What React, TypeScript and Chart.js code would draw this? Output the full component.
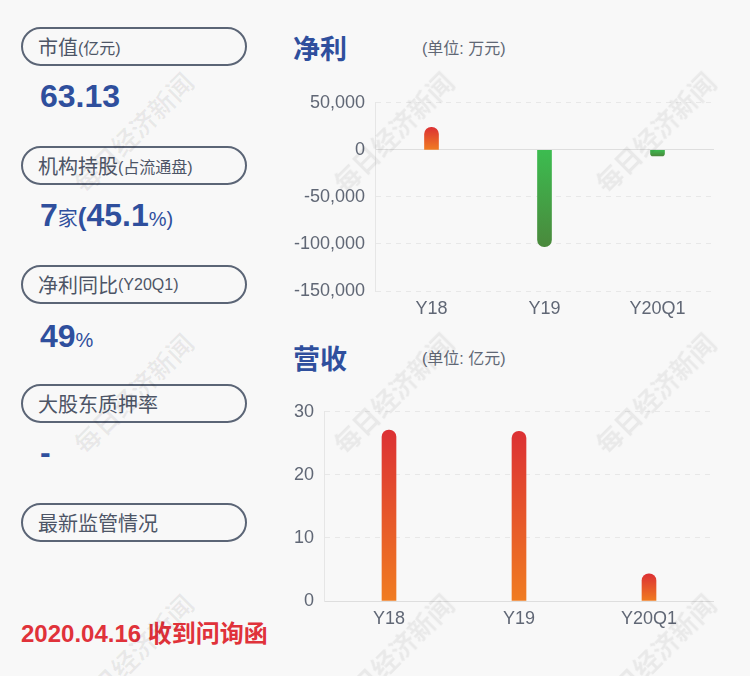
import React, { useEffect, useRef } from "react";
import { Chart, registerables } from "chart.js";

Chart.register(...registerables);

// ---------- data ----------
const categories = ["Y18", "Y19", "Y20Q1"];
const profitValues = [24000, -103000, -6500]; // 万元
const profitMin = -150000;
const profitMax = 50000;
const profitStep = 50000;
const revenueValues = [27.1, 26.9, 4.3]; // 亿元
const revenueMin = 0;
const revenueMax = 30;
const revenueStep = 10;

const pillLabels = [
  { main: "市值", sub: "(亿元)" },
  { main: "机构持股", sub: "(占流通盘)" },
  { main: "净利同比", sub: "(Y20Q1)" },
  { main: "大股东质押率", sub: "" },
  { main: "最新监管情况", sub: "" },
];
const marketCap = "63.13";
const instCount = "7";
const instPct = "45.1";
const profitYoY = "49";
const pledgeRate = "-";
const noticeText = "2020.04.16 收到问询函";
const watermarkText = "每日经济新闻";

const FONT = '"Liberation Sans", Arial, "Noto Sans CJK SC", sans-serif';
const CJK = '"Liberation Sans", Arial, "Noto Sans CJK SC", sans-serif';
const BLUE = "#2f4f9d";
const GREY_TEXT = "#4d5566";
const TICK = "#606775";
const RED = "#e0323a";

function gradientFor(c: any, fallback: string) {
  const chart = c.chart;
  const { ctx, chartArea, scales } = chart;
  if (!chartArea || !scales || !scales.y || c.raw == null) return fallback;
  const v = c.raw as number;
  const y0 = scales.y.getPixelForValue(0);
  const y1 = scales.y.getPixelForValue(v);
  const top = Math.min(y0, y1);
  const bot = Math.max(y0, y1) + 0.01;
  const g = ctx.createLinearGradient(0, top, 0, bot);
  if (v >= 0) {
    g.addColorStop(0, "#dc3134");
    g.addColorStop(1, "#f07c21");
  } else {
    g.addColorStop(0, "#3cbc50");
    g.addColorStop(1, "#4a893c");
  }
  return g;
}

function makeConfig(values: number[], min: number, max: number, step: number, yWidth: number): any {
  return {
    type: "bar",
    data: {
      labels: categories,
      datasets: [
        {
          data: values,
          barThickness: 14,
          borderRadius: 7,
          borderSkipped: "start",
          backgroundColor: (c: any) => gradientFor(c, "#e05030"),
        },
      ],
    },
    options: {
      responsive: false,
      animation: false,
      devicePixelRatio: 1,
      layout: { padding: 0 },
      plugins: { legend: { display: false }, tooltip: { enabled: false }, title: { display: false } },
      scales: {
        x: {
          grid: { display: false, drawTicks: false },
          border: { display: false },
          ticks: { color: TICK, font: { family: FONT, size: 18 }, padding: 7, maxRotation: 0 },
          afterFit: (s: any) => {
            s.height = 30;
          },
        },
        y: {
          min,
          max,
          ticks: { stepSize: step, color: TICK, font: { family: FONT, size: 18 }, padding: 10 },
          grid: {
            drawTicks: false,
            color: (c: any) => (c.tick && c.tick.value === 0 ? "#dedede" : "#e8e8e8"),
            lineWidth: 1,
          },
          border: {
            display: true,
            color: "#e6e6e6",
            dash: (c: any) => (c.tick && c.tick.value !== 0 ? [5, 5] : []),
          },
          afterFit: (s: any) => {
            s.width = yWidth;
          },
        },
      },
    },
  };
}

function BarChart(props: { values: number[]; min: number; max: number; step: number; yWidth: number; style: any; w: number; h: number }) {
  const ref = useRef<HTMLCanvasElement>(null);
  useEffect(() => {
    if (!ref.current) return;
    const chart = new Chart(ref.current, makeConfig(props.values, props.min, props.max, props.step, props.yWidth));
    return () => chart.destroy();
  }, []);
  return (
    <div style={{ position: "absolute", ...props.style, width: props.w, height: props.h }}>
      <canvas ref={ref} width={props.w} height={props.h} style={{ width: props.w, height: props.h, display: "block" }} />
    </div>
  );
}

function Pill(props: { top: number; main: string; sub: string }) {
  return (
    <div
      style={{
        position: "absolute",
        left: 21,
        top: props.top,
        width: 226,
        height: 39,
        boxSizing: "border-box",
        border: "2px solid #5b6576",
        borderRadius: 20,
        paddingLeft: 15,
        display: "flex",
        alignItems: "center",
        fontFamily: CJK,
        color: GREY_TEXT,
        whiteSpace: "nowrap",
      }}
    >
      <span style={{ fontSize: 20 }}>{props.main}</span>
      {props.sub ? <span style={{ fontSize: 16 }}>{props.sub}</span> : null}
    </div>
  );
}

const bigNum = { fontSize: 32, fontWeight: 700 as const };
const smallUnit = { fontSize: 20, fontWeight: 400 as const };

export default function App() {
  useEffect(() => {
    document.body.style.margin = "0";
    Chart.defaults.font.family = FONT;
  }, []);
  const pillTops = [27, 146, 265, 384, 503];
  const wmX = [133, 393, 655];
  const wmY = [132, 393, 654];
  return (
    <div
      style={{
        position: "fixed",
        left: 0,
        top: 0,
        width: 750,
        height: 676,
        background: "#f8f8f8",
        overflow: "hidden",
        fontFamily: FONT,
      }}
    >
      {pillLabels.map((p, i) => (
        <Pill key={i} top={pillTops[i]} main={p.main} sub={p.sub} />
      ))}

      <div style={{ position: "absolute", left: 40, top: 80, lineHeight: "32px", color: BLUE, ...bigNum, whiteSpace: "nowrap" }}>
        {marketCap}
      </div>
      <div style={{ position: "absolute", left: 40, top: 199, lineHeight: "32px", color: BLUE, whiteSpace: "nowrap", fontFamily: CJK }}>
        <span style={bigNum}>{instCount}</span>
        <span style={smallUnit}>家</span>
        <span style={{ fontSize: 26, fontWeight: 700 }}>(</span>
        <span style={bigNum}>{instPct}</span>
        <span style={smallUnit}>%)</span>
      </div>
      <div style={{ position: "absolute", left: 40, top: 320, lineHeight: "32px", color: BLUE, whiteSpace: "nowrap" }}>
        <span style={bigNum}>{profitYoY}</span>
        <span style={smallUnit}>%</span>
      </div>
      <div style={{ position: "absolute", left: 40, top: 436, lineHeight: "32px", color: BLUE, ...bigNum }}>{pledgeRate}</div>
      <div
        style={{
          position: "absolute",
          left: 21,
          top: 622,
          lineHeight: "24px",
          fontSize: 24,
          fontWeight: 700,
          color: RED,
          whiteSpace: "nowrap",
          fontFamily: CJK,
        }}
      >
        {noticeText}
      </div>

      <div style={{ position: "absolute", left: 293, top: 36, fontSize: 27, lineHeight: "28px", fontWeight: 700, color: BLUE, fontFamily: CJK }}>净利</div>
      <div style={{ position: "absolute", left: 422, top: 40, fontSize: 16, lineHeight: "18px", color: TICK, fontFamily: CJK, whiteSpace: "nowrap" }}>(单位: 万元)</div>
      <div style={{ position: "absolute", left: 293, top: 346, fontSize: 27, lineHeight: "28px", fontWeight: 700, color: BLUE, fontFamily: CJK }}>营收</div>
      <div style={{ position: "absolute", left: 422, top: 350, fontSize: 16, lineHeight: "18px", color: TICK, fontFamily: CJK, whiteSpace: "nowrap" }}>(单位: 亿元)</div>

      <BarChart values={profitValues} min={profitMin} max={profitMax} step={profitStep} yWidth={96} style={{ left: 279, top: 82 }} w={435} h={239} />
      <BarChart values={revenueValues} min={revenueMin} max={revenueMax} step={revenueStep} yWidth={44} style={{ left: 280, top: 391 }} w={434} h={240} />

      {wmY.map((y) =>
        wmX.map((x) => (
          <div
            key={x + "-" + y}
            style={{
              position: "absolute",
              left: x - 100,
              top: y - 16,
              width: 200,
              height: 32,
              lineHeight: "32px",
              textAlign: "center",
              fontSize: 26,
              fontWeight: 700,
              color: "rgba(0,0,0,0.06)",
              transform: "rotate(-45deg)",
              pointerEvents: "none",
              whiteSpace: "nowrap",
              fontFamily: '"Noto Sans CJK SC", sans-serif',
            }}
          >
            {watermarkText}
          </div>
        ))
      )}
    </div>
  );
}
